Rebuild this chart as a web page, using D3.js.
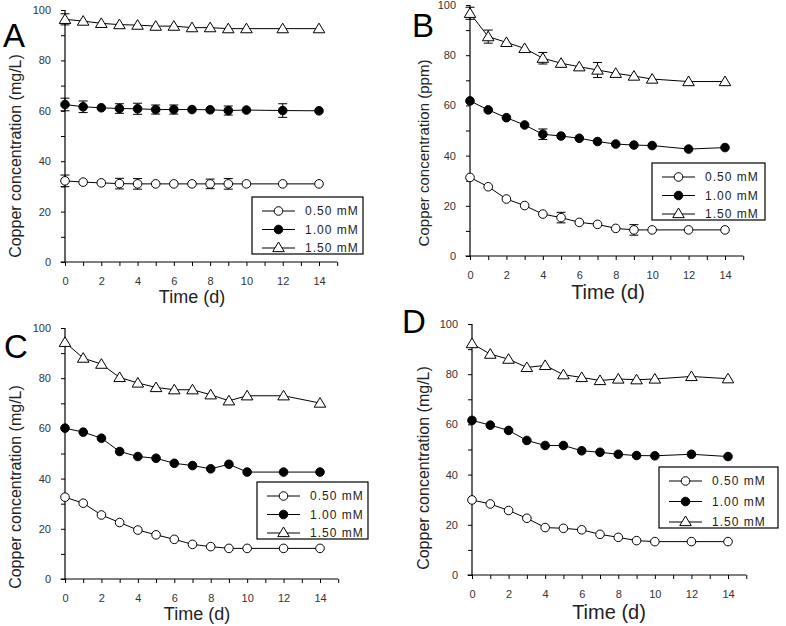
<!DOCTYPE html>
<html>
<head>
<meta charset="utf-8">
<script src="https://cdn.jsdelivr.net/npm/d3@7"></script>
<style>
  html, body { margin: 0; padding: 0; background: #fff; }
  svg { display: block; }
  text { font-family: "Liberation Sans", Arial, sans-serif; }
</style>
</head>
<body>
<svg id="chart" width="786" height="626"></svg>
<script>
// ---------- data ----------
const days = [0, 1, 2, 3, 4, 5, 6, 7, 8, 9, 10, 12, 14];
const seriesNames = ["0.50 mM", "1.00 mM", "1.50 mM"];
const xMajorTicks = [0, 2, 4, 6, 8, 10, 12, 14];
const xMinorTicks = [1, 3, 5, 7, 9, 11, 13, 15];
const yMajorTicks = [0, 20, 40, 60, 80, 100];
const yMinorTicks = [10, 30, 50, 70, 90];

const A_050 = [32.2, 31.7, 31.4, 31.1, 31.0, 31.0, 31.0, 31.0, 31.0, 31.0, 31.0, 31.0, 31.0];
const A_100 = [62.5, 61.6, 61.2, 60.9, 60.8, 60.5, 60.5, 60.5, 60.4, 60.1, 60.3, 60.1, 60.0];
const A_150 = [96.3, 95.6, 94.7, 94.2, 94.0, 93.6, 93.6, 93.0, 93.0, 92.6, 92.6, 92.6, 92.6];
const A_050_err = [2.3, 0, 0, 2.1, 2.1, 0, 0, 0, 1.9, 2.1, 0, 0, 0];
const A_100_err = [2.5, 2.3, 0, 1.9, 2.2, 1.8, 1.8, 0, 0, 1.8, 0, 2.7, 0];
const A_150_err = [2.2, 0, 0, 0, 0, 0, 0, 0, 0, 0, 0, 0, 0];

const B_050 = [31.3, 27.6, 22.7, 20.1, 16.7, 15.3, 13.4, 12.6, 11.0, 10.4, 10.4, 10.4, 10.4];
const B_100 = [61.8, 58.2, 55.1, 52.2, 48.5, 47.8, 46.9, 45.6, 44.6, 44.2, 44.0, 42.6, 43.2];
const B_150 = [96.7, 87.4, 85.1, 82.7, 78.8, 76.8, 75.4, 74.1, 72.8, 71.7, 70.5, 69.5, 69.5];
const B_050_err = [0, 0, 0, 0, 0, 2.1, 0, 0, 0, 2.1, 0, 0, 0];
const B_100_err = [0, 0, 0, 0, 2.1, 0, 0, 0, 0, 0, 0, 0, 0];
const B_150_err = [2.4, 2.6, 0, 0, 2.3, 0, 0, 3.0, 0, 0, 0, 0, 0];

const C_050 = [32.6, 30.2, 25.5, 22.5, 19.5, 17.6, 15.8, 13.8, 12.9, 12.2, 12.2, 12.2, 12.2];
const C_100 = [60.1, 58.5, 56.1, 50.8, 48.8, 48.1, 46.1, 45.2, 43.9, 45.7, 42.6, 42.6, 42.6];
const C_150 = [94.3, 88.0, 85.6, 80.3, 78.1, 76.3, 75.4, 75.4, 73.4, 71.0, 73.0, 73.0, 70.1];

const D_050 = [29.9, 28.3, 25.7, 22.6, 18.9, 18.6, 18.0, 16.2, 15.0, 13.7, 13.3, 13.3, 13.3];
const D_100 = [61.6, 59.7, 57.6, 53.6, 51.6, 51.6, 49.5, 48.9, 48.1, 47.6, 47.5, 48.1, 47.2];
const D_150 = [92.2, 88.0, 86.0, 82.7, 83.5, 79.8, 78.7, 77.5, 78.1, 77.8, 78.1, 79.1, 78.2];

// ---------- layout ----------
const panels = [
  { letter: "A", letterX: 3, letterY: 47, ylabel: "Copper concentration (mg/L)", ylabelSize: 16,
    ylabelX: 17, ylabelY: 156, x0: 65, x14: 319, y0: 262, y100: 10,
    timeX: 192, timeY: 303, timeSize: 18,
    legend: { x: 252, y: 197, w: 111, h: 57 },
    series: [A_050, A_100, A_150], errors: [A_050_err, A_100_err, A_150_err] },
  { letter: "B", letterX: 412, letterY: 37, ylabel: "Copper concentration (ppm)", ylabelSize: 15,
    ylabelX: 425, ylabelY: 153, x0: 470, x14: 725, y0: 256, y100: 5,
    timeX: 608, timeY: 299, timeSize: 20,
    legend: { x: 652, y: 163, w: 113, h: 57 },
    series: [B_050, B_100, B_150], errors: [B_050_err, B_100_err, B_150_err] },
  { letter: "C", letterX: 4, letterY: 358, ylabel: "Copper concentration (mg/L)", ylabelSize: 16,
    ylabelX: 17, ylabelY: 487, x0: 65, x14: 320, y0: 579, y100: 328,
    timeX: 197, timeY: 620, timeSize: 18,
    legend: { x: 257, y: 482, w: 111, h: 57 },
    series: [C_050, C_100, C_150], errors: null },
  { letter: "D", letterX: 402, letterY: 333, ylabel: "Copper concentration (mg/L)", ylabelSize: 16,
    ylabelX: 425, ylabelY: 468, x0: 472, x14: 728, y0: 575, y100: 324,
    timeX: 609, timeY: 619, timeSize: 20,
    legend: { x: 659, y: 467, w: 119, h: 61 },
    series: [D_050, D_100, D_150], errors: null }
];

const svg = d3.select("#chart");

function drawMarker(g, kind, cx, cy) {
  if (kind === 2) {
    const s = 5.5;
    g.append("path")
      .attr("d", `M${cx},${cy - s} L${cx + s * 1.05},${cy + s * 0.75} L${cx - s * 1.05},${cy + s * 0.75} Z`)
      .attr("fill", "#fff").attr("stroke", "#000").attr("stroke-width", 1);
  } else {
    g.append("circle").attr("cx", cx).attr("cy", cy).attr("r", 4.3)
      .attr("fill", kind === 1 ? "#000" : "#fff").attr("stroke", "#000").attr("stroke-width", 1);
  }
}

panels.forEach(p => {
  const g = svg.append("g");
  const x = d3.scaleLinear().domain([0, 14]).range([p.x0, p.x14]);
  const y = d3.scaleLinear().domain([0, 100]).range([p.y0, p.y100]);

  // axes lines
  g.append("line").attr("x1", x(-0.25)).attr("x2", x(15)).attr("y1", y(0)).attr("y2", y(0))
    .attr("stroke", "#000").attr("stroke-width", 1.2);
  g.append("line").attr("x1", x(0)).attr("x2", x(0)).attr("y1", y(0)).attr("y2", y(100))
    .attr("stroke", "#000").attr("stroke-width", 1.2);

  const xMaj = d3.axisBottom(x).tickValues(xMajorTicks).tickSize(4).tickPadding(11).tickFormat(d3.format("d"));
  const xMin = d3.axisBottom(x).tickValues(xMinorTicks).tickSize(4).tickFormat("");
  const yMaj = d3.axisLeft(y).tickValues(yMajorTicks).tickSize(4).tickPadding(10).tickFormat(d3.format("d"));
  const yMin = d3.axisLeft(y).tickValues(yMinorTicks).tickSize(4).tickFormat("");

  [[xMaj, `translate(0,${y(0)})`], [xMin, `translate(0,${y(0)})`],
   [yMaj, `translate(${x(0)},0)`], [yMin, `translate(${x(0)},0)`]].forEach(([ax, tr]) => {
    const a = g.append("g").attr("transform", tr).call(ax);
    a.select(".domain").remove();
    a.selectAll("line").attr("stroke", "#000").attr("stroke-width", 1);
    a.selectAll("text").attr("font-family", "Liberation Sans, Arial, sans-serif")
      .attr("font-size", 11).attr("fill", "#333");
  });

  // panel letter
  g.append("text").attr("x", p.letterX).attr("y", p.letterY).text(p.letter)
    .attr("font-family", "Open Sans, sans-serif").attr("font-size", 33).attr("fill", "#000");

  // y label
  g.append("text").attr("transform", `translate(${p.ylabelX},${p.ylabelY}) rotate(-90)`)
    .attr("text-anchor", "middle").attr("dy", "0.25em")
    .attr("font-size", p.ylabelSize).attr("fill", "#222").text(p.ylabel);

  // x label
  g.append("text").attr("x", p.timeX).attr("y", p.timeY).attr("text-anchor", "middle")
    .attr("font-size", p.timeSize).attr("fill", "#222").text("Time (d)");

  const line = d3.line().x((d, i) => x(days[i])).y(d => y(d));

  p.series.forEach((vals, k) => {
    g.append("path").datum(vals).attr("d", line)
      .attr("fill", "none").attr("stroke", "#000").attr("stroke-width", 1);
    if (p.errors) {
      const errs = p.errors[k];
      vals.forEach((v, i) => {
        const e = errs[i];
        if (!e) return;
        const cx = x(days[i]);
        const yt = y(v + e), yb = y(v - e);
        g.append("line").attr("x1", cx).attr("x2", cx).attr("y1", yb).attr("y2", yt).attr("stroke", "#000");
        g.append("line").attr("x1", cx - 4.5).attr("x2", cx + 4.5).attr("y1", yt).attr("y2", yt).attr("stroke", "#000");
        g.append("line").attr("x1", cx - 4.5).attr("x2", cx + 4.5).attr("y1", yb).attr("y2", yb).attr("stroke", "#000");
      });
    }
  });
  p.series.forEach((vals, k) => {
    vals.forEach((v, i) => drawMarker(g, k, x(days[i]), y(v)));
  });

  // legend
  const L = p.legend;
  const lg = g.append("g");
  lg.append("rect").attr("x", L.x).attr("y", L.y).attr("width", L.w).attr("height", L.h)
    .attr("fill", "#fff").attr("stroke", "#000").attr("stroke-width", 1.2);
  seriesNames.forEach((name, k) => {
    const ry = L.y + 14 + k * ((L.h - 20) / 2);
    lg.append("line").attr("x1", L.x + 10).attr("x2", L.x + 43).attr("y1", ry).attr("y2", ry)
      .attr("stroke", "#000").attr("stroke-width", 1);
    drawMarker(lg, k, L.x + 26.5, ry + (k === 2 ? -0.5 : 0));
    lg.append("text").attr("x", L.x + 53).attr("y", ry).attr("dy", "0.36em")
      .attr("font-size", 12).attr("letter-spacing", "1px").attr("fill", "#222").text(name);
  });
});
</script>
</body>
</html>
